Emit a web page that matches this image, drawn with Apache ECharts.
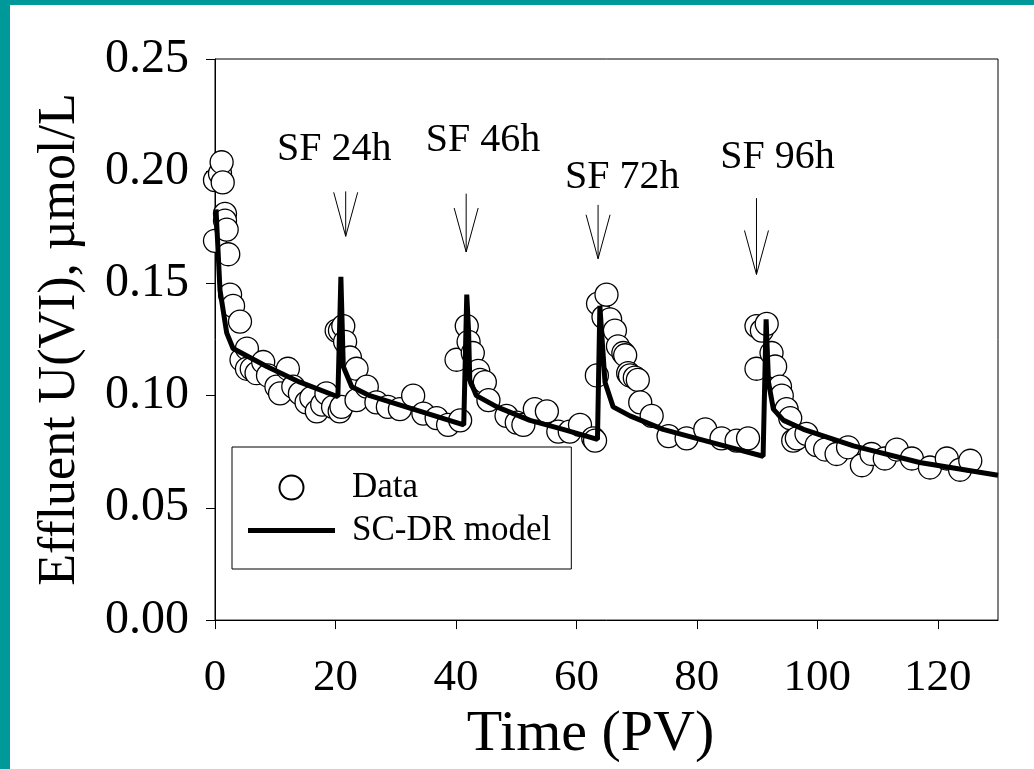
<!DOCTYPE html>
<html>
<head>
    <meta charset="utf-8">
    <title>Effluent U(VI)</title>
    <script src="https://cdn.jsdelivr.net/npm/echarts@6/dist/echarts.min.js"></script>
    <style>
        body {
            margin: 0;
            background: #009999;
        }

        #chart {
            position: absolute;
            left: 10px;
            top: 5px;
            width: 1024px;
            height: 764px;
            background: #ffffff;
        }
    </style>
</head>
<body>
<div id="chart"></div>
<script>
    // measured data (circles)
    var dataPV = [0, 0, 0.83, 1.1, 1.28, 1.66, 1.66, 1.94, 2.2, 2.5, 3.0, 4.15, 4.4, 5.3, 5.3, 6.1, 6.9, 8.0, 8.8,
        10.2, 10.8, 12.1, 13.0, 14.1, 15.2, 16.0, 16.9, 17.8, 18.5, 19.6, 20.2, 20.7, 20.75, 21.0, 21.3, 21.6, 22.4,
        23.5, 23.5, 25.2, 26.8, 28.7, 30.7, 32.9, 34.6, 36.8, 38.7, 40.1, 40.7, 41.8, 42.1, 42.8, 43.7, 44.0, 44.8,
        45.4, 48.4, 50.1, 51.2, 53.1, 55.1, 57.0, 58.9, 60.6, 62.8, 63.1, 63.4, 63.6, 64.5, 65.0, 65.6, 66.4, 66.9,
        67.8, 68.1, 68.6, 68.9, 69.7, 70.2, 70.6, 72.5, 75.3, 78.3, 81.4, 84.1, 86.6, 88.5, 89.9, 89.9, 90.8, 91.6,
        92.4, 93.0, 93.8, 94.1, 94.9, 95.5, 96.0, 96.6, 98.2, 99.9, 101.3, 103.2, 105.1, 107.4, 109.0, 111.2, 113.2,
        115.7, 118.7, 121.5, 123.7, 125.4];
    var dataU = [0.169, 0.196, 0.199, 0.204, 0.195, 0.181, 0.178, 0.174, 0.163, 0.145, 0.140, 0.133, 0.116, 0.121,
        0.112, 0.112, 0.110, 0.115, 0.109, 0.104, 0.101, 0.112, 0.104, 0.101, 0.097, 0.099, 0.093, 0.096, 0.101,
        0.095, 0.129, 0.093, 0.129, 0.095, 0.131, 0.124, 0.117, 0.112, 0.098, 0.104, 0.097, 0.095, 0.094, 0.100,
        0.092, 0.090, 0.087, 0.116, 0.089, 0.131, 0.124, 0.119, 0.111, 0.107, 0.106, 0.098, 0.091, 0.088, 0.087,
        0.094, 0.093, 0.084, 0.084, 0.087, 0.081, 0.080, 0.109, 0.141, 0.135, 0.145, 0.134, 0.129, 0.122, 0.119,
        0.118, 0.110, 0.109, 0.108, 0.107, 0.097, 0.091, 0.082, 0.081, 0.085, 0.081, 0.080, 0.081, 0.131, 0.112,
        0.129, 0.132, 0.119, 0.113, 0.104, 0.100, 0.094, 0.090, 0.080, 0.081, 0.083, 0.078, 0.076, 0.074, 0.077,
        0.069, 0.074, 0.072, 0.076, 0.072, 0.068, 0.072, 0.067, 0.071];

    // SC-DR model curve
    var modelPV = [0.17, 0.83, 1.94, 3.0, 8.6, 14.1, 20.4, 20.9, 21.0, 21.3, 22.7, 25.7, 32.9, 41.3, 41.8, 42.1,
        42.3, 43.4, 46.8, 52.3, 57.8, 63.5, 63.9, 64.75, 66.1, 68.9, 74.4, 82.7, 91.0, 91.5, 91.9, 92.7, 94.4,
        97.7, 106, 117, 130];
    var modelU = [0.183, 0.147, 0.128, 0.121, 0.113, 0.106, 0.0995, 0.153, 0.143, 0.113, 0.104, 0.100, 0.094,
        0.087, 0.145, 0.129, 0.107, 0.100, 0.095, 0.089, 0.085, 0.0805, 0.140, 0.106, 0.095, 0.091, 0.085, 0.079,
        0.073, 0.134, 0.106, 0.094, 0.089, 0.085, 0.0776, 0.0702, 0.0645];

    // stop-flow annotations
    var sfLabels = ['SF 24h', 'SF 46h', 'SF 72h', 'SF 96h'];
    var sfPV = [21.7, 41.7, 63.6, 89.9];
    var sfArrowTop = [0.191, 0.190, 0.185, 0.188];
    var sfArrowTip = [0.171, 0.164, 0.161, 0.154];
    var sfTextPV = [19.8, 44.5, 67.6, 93.4];
    var sfTextU = [0.2095, 0.2135, 0.197, 0.206];

    var xTicks = [0, 20, 40, 60, 80, 100, 120];

    var font = '"Liberation Serif", "Times New Roman", serif';

    var scatterData = dataPV.map(function (x, i) {
        return [x, dataU[i]];
    });
    var modelData = modelPV.map(function (x, i) {
        return [x, modelU[i]];
    });
    var sfData = sfPV.map(function (x, i) {
        return [x, sfArrowTop[i], sfArrowTip[i], sfTextPV[i], sfTextU[i]];
    });

    var chart = echarts.init(document.getElementById('chart'));
    var option = {
        animation: false,
        grid: {
            left: 205,
            right: 36,
            top: 54,
            bottom: 148,
            show: true,
            borderColor: '#000',
            borderWidth: 1,
            backgroundColor: 'transparent'
        },
        legend: {
            data: [
                {name: 'Data'},
                // thick bar as the line sample
                {name: 'SC-DR model', icon: 'path://M0,0 L87,0 L87,5 L0,5 Z', itemStyle: {color: '#000', borderWidth: 0}}
            ],
            orient: 'vertical',
            left: 222,
            top: 442,
            itemWidth: 87,
            itemHeight: 24,
            itemGap: 8,
            padding: [23, 20, 21, 16],
            borderColor: '#000',
            borderWidth: 1,
            backgroundColor: '#fff',
            textStyle: {
                fontFamily: font,
                fontSize: 35,
                color: '#000',
                padding: [0, 0, 0, 12]
            }
        },
        xAxis: {
            type: 'value',
            min: 0,
            max: 130,
            interval: 20,
            name: 'Time (PV)',
            nameLocation: 'middle',
            nameGap: 76,
            nameTextStyle: {fontFamily: font, fontSize: 58, color: '#000', padding: [0, 32, 0, 0]},
            splitLine: {show: false},
            axisLine: {onZero: false, lineStyle: {color: '#000', width: 1}},
            axisTick: {length: 9, lineStyle: {color: '#000'}, customValues: xTicks},
            axisLabel: {
                fontFamily: font, fontSize: 45, color: '#000', margin: 36,
                customValues: xTicks
            }
        },
        yAxis: {
            type: 'value',
            min: 0,
            max: 0.25,
            interval: 0.05,
            name: 'Effluent U(VI), \u00b5mol/L',
            nameLocation: 'middle',
            nameGap: 129,
            nameTextStyle: {fontFamily: font, fontSize: 52, color: '#000'},
            splitLine: {show: false},
            axisLine: {lineStyle: {color: '#000', width: 1}},
            axisTick: {length: 9, lineStyle: {color: '#000'}},
            axisLabel: {
                fontFamily: font, fontSize: 48, color: '#000', margin: 26,
                formatter: function (v) {
                    return v.toFixed(2);
                }
            }
        },
        series: [
            {
                name: 'Data',
                type: 'scatter',
                data: scatterData,
                symbol: 'circle',
                symbolSize: 23,
                itemStyle: {color: '#fff', borderColor: '#000', borderWidth: 1.3, opacity: 1},
                z: 2
            },
            {
                name: 'SC-DR model',
                type: 'line',
                data: modelData,
                symbol: 'none',
                showSymbol: false,
                lineStyle: {color: '#000', width: 5},
                itemStyle: {color: '#000'},
                z: 3
            },
            {
                name: 'SF',
                type: 'custom',
                data: sfData,
                silent: true,
                z: 4,
                renderItem: function (params, api) {
                    var top = api.coord([api.value(0), api.value(1)]);
                    var tip = api.coord([api.value(0), api.value(2)]);
                    var txt = api.coord([api.value(3), api.value(4)]);
                    return {
                        type: 'group',
                        children: [
                            {
                                type: 'line',
                                shape: {x1: top[0], y1: top[1], x2: tip[0], y2: tip[1]},
                                style: {stroke: '#000', lineWidth: 1}
                            },
                            {
                                type: 'polyline',
                                shape: {points: [[tip[0] - 12, tip[1] - 44], [tip[0], tip[1]], [tip[0] + 12, tip[1] - 44]]},
                                style: {stroke: '#000', fill: null, lineWidth: 1}
                            },
                            {
                                type: 'text',
                                x: txt[0],
                                y: txt[1],
                                style: {
                                    text: sfLabels[params.dataIndex],
                                    font: '40px ' + font,
                                    fill: '#000',
                                    align: 'center',
                                    verticalAlign: 'middle'
                                }
                            }
                        ]
                    };
                }
            }
        ]
    };
    chart.setOption(option);
</script>
</body>
</html>
